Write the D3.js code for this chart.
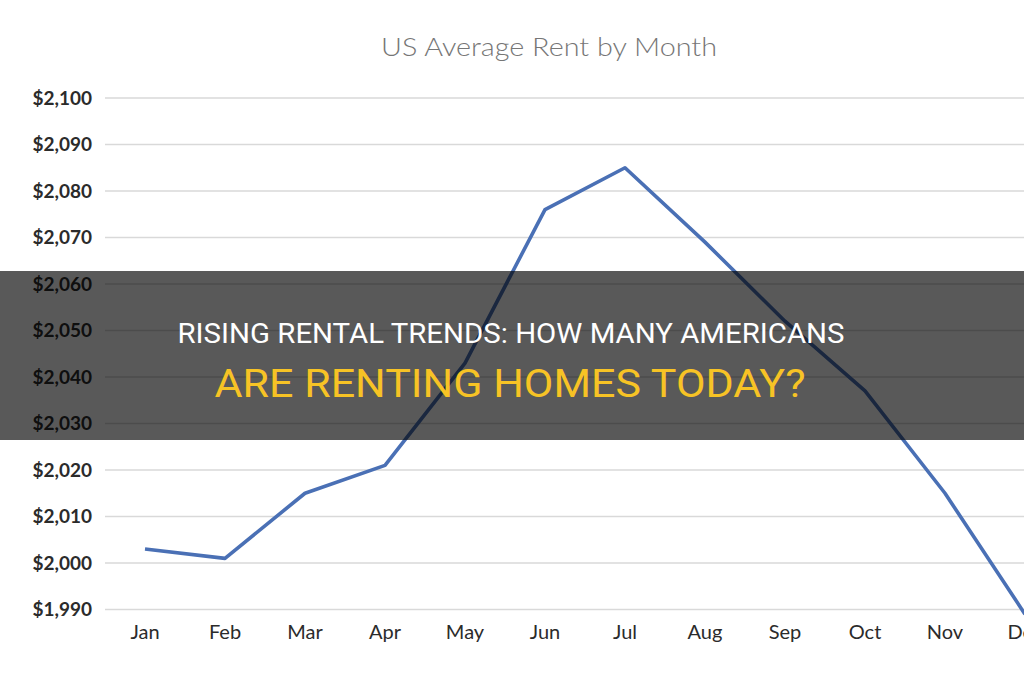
<!DOCTYPE html>
<html>
<head>
<meta charset="utf-8">
<script src="https://cdn.jsdelivr.net/npm/d3@7"></script>
<style>
  html, body { margin: 0; padding: 0; background: #fff; overflow: hidden; }
  svg { display: block; }
</style>
</head>
<body>
<div id="chart"></div>
<script>
// data
var months = ["Jan", "Feb", "Mar", "Apr", "May", "Jun", "Jul", "Aug", "Sep", "Oct", "Nov", "Dec"];
var rent = [2003, 2001, 2015, 2021, 2043, 2076, 2085, 2069, 2052, 2037, 2015, 1989];
var yTicks = [1990, 2000, 2010, 2020, 2030, 2040, 2050, 2060, 2070, 2080, 2090, 2100];

var title = "US Average Rent by Month";
var banner1 = "RISING RENTAL TRENDS: HOW MANY AMERICANS";
var banner2 = "ARE RENTING HOMES TODAY?";

var width = 1024, height = 680;
var svg = d3.select("#chart").append("svg")
    .attr("width", width)
    .attr("height", height);

// plot area (chart is cropped on the right)
var x = d3.scaleBand()
    .domain(months)
    .range([105, 1065]);
var y = d3.scaleLinear()
    .domain([1990, 2100])
    .range([609.5, 98]);

var labelFont = "Lato, 'DejaVu Sans Condensed', sans-serif";
var bannerFont = "Roboto, 'Liberation Sans', sans-serif";

// title
svg.append("text")
    .attr("x", 549)
    .attr("y", 56)
    .attr("text-anchor", "middle")
    .attr("font-family", labelFont)
    .attr("font-size", 26)
    .attr("font-weight", 300)
    .attr("fill", "#767676")
    .attr("textLength", 336)
    .attr("lengthAdjust", "spacingAndGlyphs")
    .text(title);

// gridlines
svg.append("g")
    .attr("class", "grid")
    .selectAll("line")
    .data(yTicks)
    .enter().append("line")
      .attr("x1", 105)
      .attr("x2", width)
      .attr("y1", function(d) { return y(d); })
      .attr("y2", function(d) { return y(d); })
      .attr("stroke", "#d9d9d9")
      .attr("stroke-width", 1.6);

// y axis labels
var yAxis = svg.append("g")
    .attr("transform", "translate(92,0)")
    .call(d3.axisLeft(y).tickValues(yTicks).tickSize(0).tickPadding(0)
          .tickFormat(function(d) { return "$" + d3.format(",")(d); }));
yAxis.select(".domain").remove();
yAxis.selectAll("text")
    .attr("font-family", labelFont)
    .attr("font-size", 19)
    .attr("font-weight", "bold")
    .attr("fill", "#2b2b2b");

// x axis labels
var xAxis = svg.append("g")
    .attr("transform", "translate(0,625)")
    .call(d3.axisBottom(x).tickSize(0).tickPadding(0));
xAxis.select(".domain").remove();
xAxis.selectAll("text")
    .attr("font-family", labelFont)
    .attr("font-size", 20)
    .attr("fill", "#2b2b2b");

// line
var line = d3.line()
    .x(function(d, i) { return x(months[i]) + x.bandwidth() / 2; })
    .y(function(d) { return y(d); });

svg.append("path")
    .datum(rent)
    .attr("d", line)
    .attr("fill", "none")
    .attr("stroke", "#4a70b5")
    .attr("stroke-width", 3.6)
    .attr("stroke-linejoin", "round");

// dark banner over the chart
svg.append("rect")
    .attr("x", 0)
    .attr("y", 271)
    .attr("width", width)
    .attr("height", 169)
    .attr("fill", "#000")
    .attr("fill-opacity", 0.65);

svg.append("text")
    .attr("x", 511)
    .attr("y", 343)
    .attr("text-anchor", "middle")
    .attr("font-family", bannerFont)
    .attr("font-size", 27)
    .attr("fill", "#ffffff")
    .attr("textLength", 667)
    .attr("lengthAdjust", "spacingAndGlyphs")
    .text(banner1);

svg.append("text")
    .attr("x", 510)
    .attr("y", 396.5)
    .attr("text-anchor", "middle")
    .attr("font-family", bannerFont)
    .attr("font-size", 39)
    .attr("fill", "#f7c325")
    .attr("textLength", 591)
    .attr("lengthAdjust", "spacingAndGlyphs")
    .text(banner2);
</script>
</body>
</html>
